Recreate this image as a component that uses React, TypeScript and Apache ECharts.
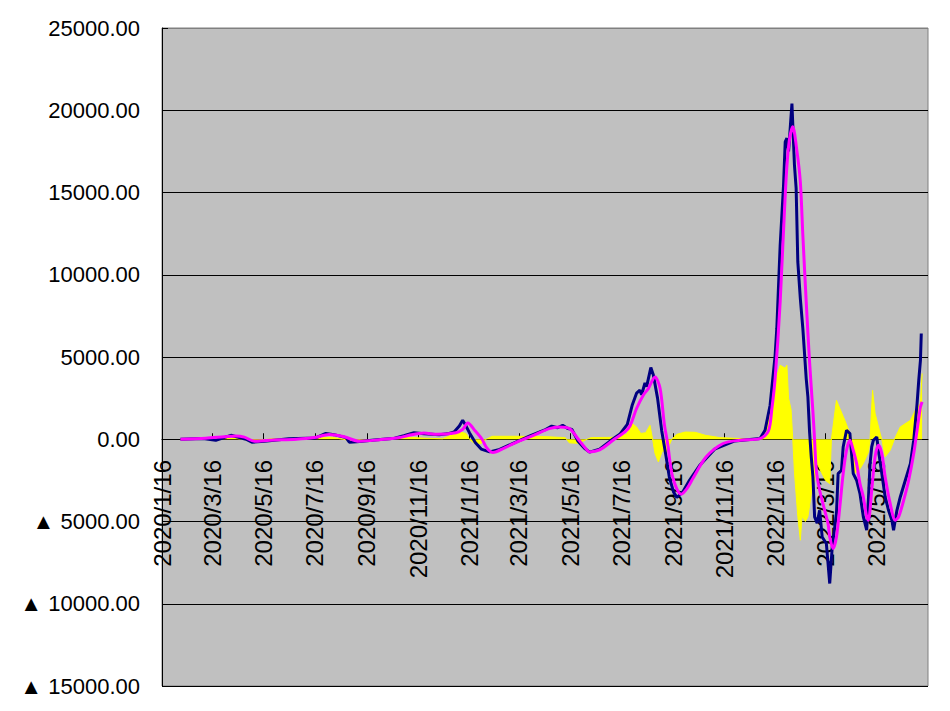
import React, { useEffect, useRef } from "react";
import * as echarts from "echarts";

// X axis tick labels (every two months)
const xTickLabels = [
  "2020/1/16", "2020/3/16", "2020/5/16", "2020/7/16", "2020/9/16", "2020/11/16",
  "2021/1/16", "2021/3/16", "2021/5/16", "2021/7/16", "2021/9/16", "2021/11/16",
  "2022/1/16", "2022/3/16", "2022/5/16",
];
const xMin = "2020/1/16";
const xMax = "2022/7/16";

// Navy series (daily-ish raw values)
const navyDates = [
  "2020-02-07", "2020-03-05", "2020-03-20", "2020-04-07", "2020-04-25", "2020-05-02", "2020-05-17",
  "2020-06-15", "2020-07-17", "2020-07-29", "2020-08-08", "2020-08-22", "2020-08-26", "2020-09-04",
  "2020-09-25", "2020-10-19", "2020-10-30", "2020-11-11", "2020-11-23", "2020-12-11", "2020-12-23",
  "2020-12-29", "2021-01-04", "2021-01-08", "2021-01-11", "2021-01-16", "2021-01-23", "2021-01-30",
  "2021-02-09", "2021-02-21", "2021-03-11", "2021-03-29", "2021-04-15", "2021-04-24", "2021-05-01",
  "2021-05-07", "2021-05-13", "2021-05-18", "2021-05-25", "2021-06-02", "2021-06-08", "2021-06-20",
  "2021-07-04", "2021-07-14", "2021-07-23", "2021-07-29", "2021-08-03", "2021-08-07", "2021-08-09",
  "2021-08-13", "2021-08-15", "2021-08-20", "2021-08-23", "2021-08-28", "2021-09-02", "2021-09-07",
  "2021-09-11", "2021-09-16", "2021-09-20", "2021-09-27", "2021-10-05", "2021-10-17", "2021-11-04",
  "2021-11-28", "2021-12-28", "2022-01-03", "2022-01-09", "2022-01-15", "2022-01-17", "2022-01-21",
  "2022-01-25", "2022-01-27", "2022-01-29", "2022-01-31", "2022-02-04", "2022-02-07", "2022-02-09",
  "2022-02-11", "2022-02-14", "2022-02-17", "2022-02-21", "2022-02-23", "2022-02-25", "2022-02-27",
  "2022-03-01", "2022-03-03", "2022-03-06", "2022-03-09", "2022-03-12", "2022-03-17", "2022-03-19",
  "2022-03-21", "2022-03-24", "2022-03-29", "2022-03-31", "2022-04-04", "2022-04-06", "2022-04-10",
  "2022-04-14", "2022-04-18", "2022-04-22", "2022-04-26", "2022-04-30", "2022-05-04", "2022-05-06",
  "2022-05-08", "2022-05-10", "2022-05-12", "2022-05-16", "2022-05-18", "2022-05-22", "2022-05-26",
  "2022-05-30", "2022-06-03", "2022-06-05", "2022-06-09", "2022-06-13", "2022-06-19", "2022-06-25",
  "2022-06-29", "2022-07-03", "2022-07-05", "2022-07-07", "2022-07-08",
];
const navyValues = [
  0, 50, -60, 240, 0, -180, -120,
  30, 80, 350, 280, 100, -180, -150,
  -50, 60, 220, 400, 330, 280, 350,
  450, 800, 1150, 900, 400, -200, -600,
  -770, -620, -200, 200, 550, 800, 700,
  850, 650, 600, -100, -550, -780, -600,
  -50, 300, 900, 2100, 2800, 2980, 2700,
  3420, 3200, 4360, 3900, 2500, 500, -1000,
  -2300, -3200, -3540, -3200, -2500, -1600, -600,
  -100, 50, 550, 2070, 5100, 6750, 11800,
  15440, 18080, 18300, 17500, 20400, 16660, 15260,
  10780, 8550, 6730, 3690, 2570, 440, -1070,
  -2290, -4720, -5100, -4320, -5940, -6340, -7560,
  -8770, -6530, -4520, -2090, -1880, -470, 550,
  350, -2090, -2490, -3300, -4720, -5530, -3710,
  -1480, -470, -60, 140, -670, -2090, -3510,
  -4320, -4920, -5530, -4320, -3510, -2490, -1480,
  -60, 2170, 3590, 4800, 6430,
];

// Magenta series (smoothed values)
const magentaDates = [
  "2020-02-07", "2020-03-08", "2020-03-30", "2020-04-13", "2020-04-23", "2020-05-05", "2020-05-23",
  "2020-06-24", "2020-07-15", "2020-08-02", "2020-08-20", "2020-09-07", "2020-10-01", "2020-10-25",
  "2020-11-05", "2020-11-23", "2020-12-08", "2020-12-31", "2021-01-08", "2021-01-14", "2021-01-23",
  "2021-01-31", "2021-02-06", "2021-02-13", "2021-02-27", "2021-03-14", "2021-04-03", "2021-04-21",
  "2021-05-03", "2021-05-15", "2021-05-25", "2021-06-02", "2021-06-08", "2021-06-20", "2021-07-06",
  "2021-07-20", "2021-07-26", "2021-08-03", "2021-08-11", "2021-08-17", "2021-08-25", "2021-08-31",
  "2021-09-05", "2021-09-09", "2021-09-15", "2021-09-25", "2021-10-02", "2021-10-09", "2021-10-25",
  "2021-11-14", "2021-12-04", "2021-12-28", "2022-01-07", "2022-01-11", "2022-01-15", "2022-01-21",
  "2022-01-27", "2022-01-31", "2022-02-05", "2022-02-10", "2022-02-14", "2022-02-17", "2022-02-21",
  "2022-02-25", "2022-03-01", "2022-03-03", "2022-03-05", "2022-03-09", "2022-03-15", "2022-03-19",
  "2022-03-21", "2022-03-25", "2022-03-29", "2022-04-02", "2022-04-06", "2022-04-10", "2022-04-14",
  "2022-04-18", "2022-04-22", "2022-04-26", "2022-04-30", "2022-05-04", "2022-05-06", "2022-05-10",
  "2022-05-14", "2022-05-18", "2022-05-22", "2022-05-26", "2022-06-01", "2022-06-07", "2022-06-11",
  "2022-06-17", "2022-06-23", "2022-06-29", "2022-07-03", "2022-07-07", "2022-07-09",
];
const magentaValues = [
  0, 60, 150, 200, 130, -120, -60,
  0, 100, 290, 150, -120, -30, 100,
  240, 380, 300, 400, 600, 990, 500,
  0, -550, -810, -520, -160, 250, 650,
  750, 650, 50, -470, -770, -650, -60,
  450, 790, 1870, 2680, 3080, 3790, 3100,
  950, -260, -2290, -3340, -3000, -2390, -1070,
  -260, -60, 40, 500, 1800, 3710, 8350,
  14840, 17800, 18990, 17500, 15640, 12400, 8350,
  4700, 1660, -60, -1880, -3100, -4320, -5130,
  -5940, -6650, -5940, -4120, -2090, -670, -60,
  -670, -1480, -2690, -3510, -4720, -4920, -3100,
  -1070, -365, -870, -2290, -3910, -4920, -4720,
  -3710, -2490, -870, 550, 1960, 2270,
];

// Yellow series (difference, area)
const yellowDates = [
  "2020-02-07", "2020-03-25", "2020-04-10", "2020-04-25", "2020-05-10", "2020-05-25", "2020-06-24",
  "2020-07-20", "2020-08-05", "2020-08-25", "2020-09-15", "2020-10-10", "2020-11-05", "2020-11-25",
  "2020-12-15", "2020-12-28", "2021-01-05", "2021-01-12", "2021-01-16", "2021-01-22", "2021-01-30",
  "2021-02-05", "2021-02-12", "2021-03-15", "2021-04-15", "2021-05-10", "2021-05-15", "2021-05-25",
  "2021-06-05", "2021-06-10", "2021-07-10", "2021-07-22", "2021-07-29", "2021-08-03", "2021-08-08",
  "2021-08-14", "2021-08-19", "2021-08-22", "2021-08-25", "2021-08-29", "2021-09-03", "2021-09-07",
  "2021-09-10", "2021-09-14", "2021-09-20", "2021-09-30", "2021-10-12", "2021-10-24", "2021-11-10",
  "2021-12-10", "2021-12-30", "2022-01-03", "2022-01-10", "2022-01-12", "2022-01-20", "2022-01-21",
  "2022-01-27", "2022-01-29", "2022-01-31", "2022-02-03", "2022-02-05", "2022-02-07", "2022-02-11",
  "2022-02-14", "2022-02-16", "2022-02-20", "2022-02-23", "2022-02-28", "2022-03-03", "2022-03-06",
  "2022-03-11", "2022-03-16", "2022-03-21", "2022-03-23", "2022-03-29", "2022-04-02", "2022-04-08",
  "2022-04-14", "2022-04-16", "2022-04-20", "2022-04-26", "2022-04-30", "2022-05-06", "2022-05-08",
  "2022-05-11", "2022-05-14", "2022-05-20", "2022-05-22", "2022-05-26", "2022-06-01", "2022-06-06",
  "2022-06-13", "2022-06-25", "2022-07-01", "2022-07-07", "2022-07-09",
];
const yellowValues = [
  0, 40, 80, -40, -80, 30, 0,
  80, 120, -60, -60, 20, 120, 60,
  30, 300, 440, 350, 0, -260, -250,
  0, 180, 180, 160, 100, -220, -250,
  0, 100, 120, 300, 950, 750, 350,
  400, 850, 40, -870, -1380, -670, -870,
  -470, 0, 300, 440, 420, 240, 100,
  30, 0, 100, 2070, 3100, 4320, 4500,
  4320, 4500, 2500, 1800, 0, -2000, -4700,
  -6140, -4700, -5000, -4720, -3000, -2500, -1460,
  -2000, -2500, -2700, 0, 2370, 1880, 1150,
  360, 0, -2070, -1800, -1460, -800, 0,
  2980, 1580, 360, 0, -1070, -670, 0,
  750, 1150, 1760, 2190, 4000,
];

const FONT = "'Liberation Sans', Arial, sans-serif";

function toTs(s: string): number {
  const [y, m, d] = s.split(/[\/-]/).map(Number);
  return new Date(y, m - 1, d).getTime();
}

function pairs(dates: string[], values: number[]) {
  return dates.map((d, i) => [toTs(d), values[i]]);
}

export default function App() {
  const ref = useRef<HTMLDivElement>(null);

  useEffect(() => {
    if (!ref.current) return;
    const chart = echarts.init(ref.current, null, { renderer: "svg" });
    const tickValues = xTickLabels.map(toTs);
    const splitColors = ["#000", "#000", "#000", "#000", "#000", "#000", "#000", "#000", "#808080"];
    chart.setOption({
      animation: false,
      backgroundColor: "#ffffff",
      grid: {
        left: 162,
        top: 28,
        right: 22,
        bottom: 25,
        show: true,
        containLabel: false,
        outerBoundsMode: "none",
        backgroundColor: "#C0C0C0",
        borderColor: "#808080",
        borderWidth: 1,
      },
      xAxis: {
        type: "value",
        z: 0,
        min: toTs(xMin),
        max: toTs(xMax),
        axisLine: { show: true, onZero: true, lineStyle: { color: "#000", width: 1 } },
        axisTick: {
          show: true,
          inside: true,
          length: 6,
          customValues: tickValues,
          lineStyle: { color: "#000", width: 1 },
        },
        axisLabel: {
          show: true,
          rotate: 90,
          margin: -226,
          color: "#000",
          fontSize: 24,
          fontFamily: FONT,
          padding: [0, 0, 6, 0],
          customValues: tickValues,
          showMinLabel: true,
          formatter: (v: number) => {
            const d = new Date(v);
            return `${d.getFullYear()}/${d.getMonth() + 1}/${d.getDate()}`;
          },
        },
        splitLine: { show: false },
      },
      yAxis: {
        type: "value",
        z: 0,
        min: -15000,
        max: 25000,
        interval: 5000,
        axisLine: { show: true, onZero: false, lineStyle: { color: "#000", width: 1 } },
        axisTick: { show: true, inside: true, length: 6, lineStyle: { color: "#000" } },
        axisLabel: {
          color: "#000",
          fontSize: 22,
          fontFamily: FONT,
          margin: 22,
          formatter: (v: number) => (v < 0 ? "▲ " + Math.abs(v).toFixed(2) : v.toFixed(2)),
        },
        splitLine: { show: true, lineStyle: { color: splitColors, width: 1 } },
      },
      series: [
        {
          name: "差分",
          type: "line",
          data: pairs(yellowDates, yellowValues),
          showSymbol: false,
          lineStyle: { width: 1, color: "#FFFF00" },
          itemStyle: { color: "#FFFF00" },
          areaStyle: { color: "#FFFF00", opacity: 1 },
          z: 5,
        },
        {
          name: "実数",
          type: "line",
          data: pairs(navyDates, navyValues),
          showSymbol: false,
          lineStyle: { width: 3, color: "#000080" },
          itemStyle: { color: "#000080" },
          z: 6,
        },
        {
          name: "平均",
          type: "line",
          data: pairs(magentaDates, magentaValues),
          showSymbol: false,
          smooth: 0.3,
          lineStyle: { width: 3, color: "#FF00FF" },
          itemStyle: { color: "#FF00FF" },
          z: 7,
        },
      ],
    });
    return () => chart.dispose();
  }, []);

  return (
    <div
      ref={ref}
      style={{ position: "absolute", left: 0, top: 0, width: 950, height: 711 }}
    />
  );
}
